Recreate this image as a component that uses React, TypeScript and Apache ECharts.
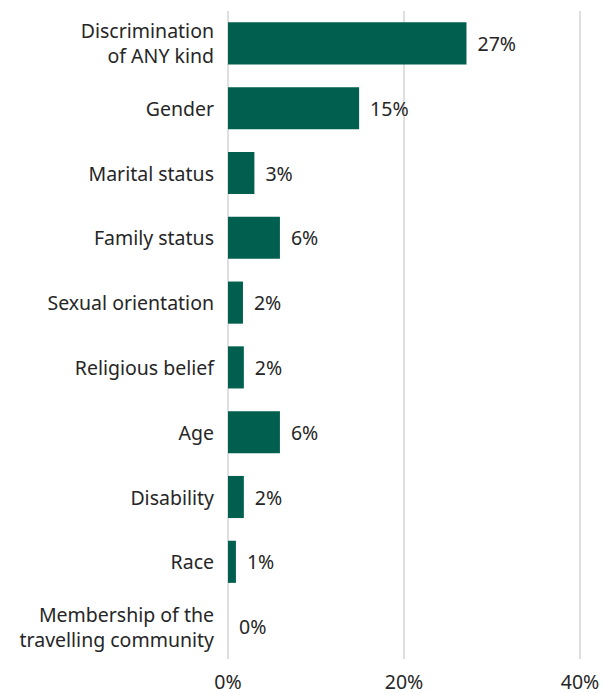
import React, { useEffect, useRef } from "react";
import * as echarts from "echarts";

const categories: string[] = [
  "Discrimination\nof ANY kind",
  "Gender",
  "Marital status",
  "Family status",
  "Sexual orientation",
  "Religious belief",
  "Age",
  "Disability",
  "Race",
  "Membership of the\ntravelling community",
];
const values: number[] = [27.1, 14.9, 3.0, 5.9, 1.7, 1.8, 5.9, 1.8, 0.9, 0];
const tickValues: number[] = [0, 20, 40];

export default function App() {
  const ref = useRef<HTMLDivElement>(null);
  useEffect(() => {
    document.body.style.margin = "0";
    const chart = echarts.init(ref.current!, undefined, { renderer: "svg" });
    const font = "'Noto Sans', 'Open Sans', sans-serif";
    const fs = 19.5;
    chart.setOption({
      animation: false,
      textStyle: { fontFamily: font },
      grid: { left: 228, right: 24, top: 11, height: 648, containLabel: false },
      xAxis: {
        type: "value",
        min: tickValues[0],
        max: tickValues[tickValues.length - 1],
        interval: 20,
        axisLine: { show: false },
        axisTick: { show: false },
        splitLine: { show: true, lineStyle: { color: "#d4d4d4", width: 1.5 } },
        axisLabel: {
          formatter: (v: number) => `${v}%`,
          color: "#262626",
          fontSize: fs,
          fontFamily: font,
          margin: 12,
        },
      },
      yAxis: {
        type: "category",
        inverse: true,
        data: categories,
        axisLine: { show: false },
        axisTick: { show: false },
        axisLabel: {
          color: "#262626",
          fontSize: fs,
          fontFamily: font,
          margin: 14,
          lineHeight: 25,
          align: "right",
        },
      },
      series: [
        {
          type: "bar",
          data: values,
          barCategoryGap: "35%",
          itemStyle: { color: "#005f4f" },
          label: {
            show: true,
            position: "right",
            distance: 11,
            color: "#262626",
            fontSize: fs,
            fontFamily: font,
            formatter: (p: any) => `${Math.round(p.value)}%`,
          },
        },
      ],
    });
    return () => chart.dispose();
  }, []);
  return <div ref={ref} style={{ width: 604, height: 693 }} />;
}
